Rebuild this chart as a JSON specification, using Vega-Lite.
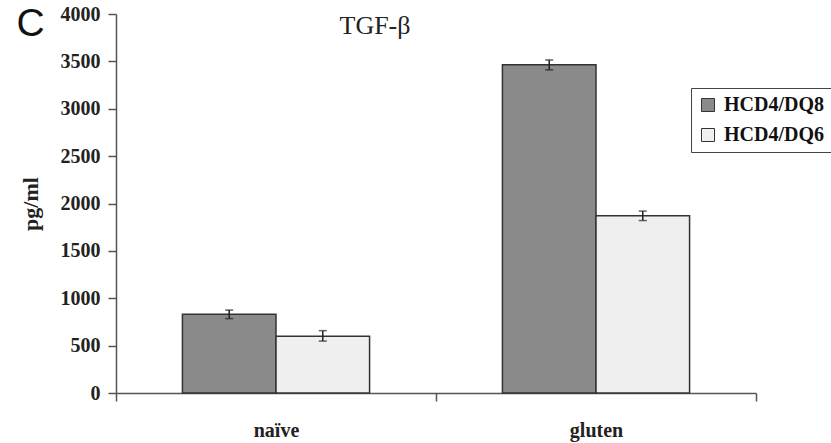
{
  "$schema": "https://vega.github.io/schema/vega-lite/v6.json",
  "autosize": "none",
  "padding": {"left": 116, "top": 14, "right": 75, "bottom": 50},
  "width": 640,
  "height": 379,
  "background": "white",
  "title": {
    "text": "TGF-β",
    "anchor": "middle",
    "frame": "group",
    "dx": -61,
    "dy": 48,
    "offset": 0,
    "baseline": "middle",
    "font": "Liberation Serif",
    "fontSize": 26,
    "fontWeight": "normal",
    "color": "#222"
  },
  "config": {
    "view": {"stroke": null},
    "axis": {"grid": false}
  },
  "data": {
    "values": [
      {"condition": "naïve", "group": "HCD4/DQ8", "value": 830, "lo": 785, "hi": 875},
      {"condition": "naïve", "group": "HCD4/DQ6", "value": 600, "lo": 548, "hi": 658},
      {"condition": "gluten", "group": "HCD4/DQ8", "value": 3465, "lo": 3410, "hi": 3515},
      {"condition": "gluten", "group": "HCD4/DQ6", "value": 1870, "lo": 1820, "hi": 1920}
    ]
  },
  "encoding": {
    "x": {
      "field": "condition",
      "type": "nominal",
      "sort": ["naïve", "gluten"],
      "scale": {"paddingInner": 0, "paddingOuter": 0},
      "axis": {
        "title": "C",
        "titleX": -86,
        "titleY": -370,
        "titleAngle": 0,
        "titleAlign": "center",
        "titleBaseline": "middle",
        "titleFont": "Liberation Sans",
        "titleFontSize": 39,
        "titleFontWeight": "normal",
        "titleColor": "#111",
        "labelAngle": 0,
        "labelFont": "Liberation Serif",
        "labelFontWeight": "bold",
        "labelFontSize": 20,
        "labelColor": "#222",
        "labelPadding": 19,
        "tickBand": "extent",
        "tickSize": 8,
        "tickWidth": 1.5,
        "tickColor": "#555",
        "domainColor": "#555",
        "domainWidth": 1.5
      }
    },
    "xOffset": {
      "field": "group",
      "type": "nominal",
      "sort": ["HCD4/DQ8", "HCD4/DQ6"],
      "scale": {"paddingInner": 0, "paddingOuter": 0.71}
    }
  },
  "layer": [
    {
      "mark": {"type": "bar", "stroke": "#333", "strokeWidth": 1.5},
      "encoding": {
        "y": {
          "field": "value",
          "type": "quantitative",
          "scale": {"domain": [0, 4000]},
          "axis": {
            "values": [0, 500, 1000, 1500, 2000, 2500, 3000, 3500, 4000],
            "format": "d",
            "title": "pg/ml",
            "titleFont": "Liberation Serif",
            "titleFontWeight": "bold",
            "titleFontSize": 22,
            "titleColor": "#222",
            "titlePadding": 18,
            "labelFont": "Liberation Serif",
            "labelFontWeight": "bold",
            "labelFontSize": 20,
            "labelColor": "#222",
            "labelPadding": 8,
            "tickSize": 8,
            "tickWidth": 1.5,
            "tickColor": "#555",
            "domainColor": "#555",
            "domainWidth": 1.5
          }
        },
        "fill": {
          "field": "group",
          "type": "nominal",
          "sort": ["HCD4/DQ8", "HCD4/DQ6"],
          "scale": {"domain": ["HCD4/DQ8", "HCD4/DQ6"], "range": ["#8a8a8a", "#efefef"]},
          "legend": {
            "title": null,
            "orient": "none",
            "legendX": 575,
            "legendY": 74,
            "strokeColor": "#444",
            "fillColor": "white",
            "padding": 7,
            "symbolType": "square",
            "symbolSize": 169,
            "symbolStrokeColor": "#333",
            "symbolStrokeWidth": 1,
            "labelFont": "Liberation Serif",
            "labelFontWeight": "bold",
            "labelFontSize": 20,
            "labelColor": "#111",
            "labelOffset": 6,
            "rowPadding": 10
          }
        }
      }
    },
    {
      "mark": {"type": "rule", "color": "#222", "strokeWidth": 1.5},
      "encoding": {
        "y": {"field": "lo", "type": "quantitative"},
        "y2": {"field": "hi"}
      }
    },
    {
      "mark": {"type": "tick", "color": "#222", "size": 8, "thickness": 1.5},
      "encoding": {"y": {"field": "lo", "type": "quantitative"}}
    },
    {
      "mark": {"type": "tick", "color": "#222", "size": 8, "thickness": 1.5},
      "encoding": {"y": {"field": "hi", "type": "quantitative"}}
    }
  ]
}
